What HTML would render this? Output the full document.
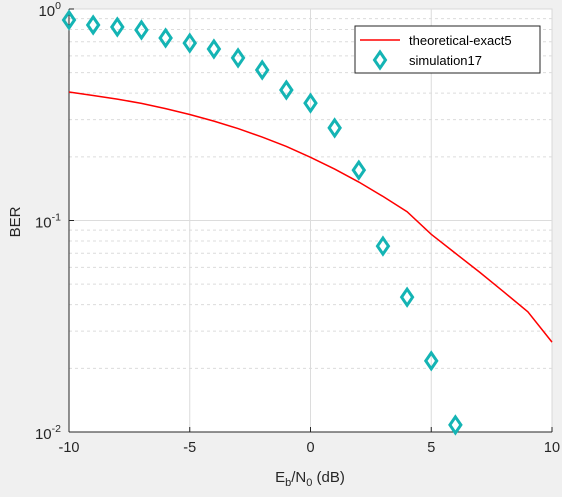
<!DOCTYPE html>
<html><head><meta charset="utf-8"><style>
body{margin:0;background:#f0f0f0;}
svg{display:block;font-family:"Liberation Sans",sans-serif;}
</style></head><body>
<svg id="c" width="562" height="497"></svg>
<script>
const xTicks=[-10,-5,0,5,10];
const simX=[-10,-9,-8,-7,-6,-5,-4,-3,-2,-1,0,1,2,3,4,5,6];
const simY=[0.887,0.840,0.822,0.796,0.729,0.690,0.647,0.587,0.515,0.414,0.359,0.274,0.173,0.0757,0.0434,0.0217,0.0108];
const theoX=[-10,-9,-8,-7,-6,-5,-4,-3,-2,-1,0,1,2,3,4,5,6,7,8,9,10];
const theoY=[0.405,0.39,0.375,0.358,0.338,0.317,0.295,0.272,0.248,0.224,0.199,0.175,0.152,0.13,0.11,0.086,0.07,0.057,0.046,0.037,0.0266];
const L=69,R=552,T=9,B=432;
const sx=v=>L+(v+10)/20*(R-L);
const sy=v=>T+(-Math.log10(v))/2*(B-T);
const svg=document.getElementById('c');const NS='http://www.w3.org/2000/svg';
function mk(t,a,p){const e=document.createElementNS(NS,t);for(const k in a)e.setAttribute(k,a[k]);(p||svg).appendChild(e);return e;}
const bg=mk('rect',{x:L,y:T,width:R-L,height:B-T,fill:'#fff',stroke:'#d8d8d8'});


for(let d=0;d<2;d++)for(let m=2;m<=9;m++){const y=sy(m*Math.pow(10,-d-1));
const g=mk('line',{x1:L,x2:R,y1:y,y2:y,stroke:'#dcdcdc','stroke-dasharray':'3,3'});

}
[0.1].forEach(v=>{const g=mk('line',{x1:L,x2:R,y1:sy(v),y2:sy(v),stroke:'#dcdcdc'});

});
xTicks.forEach(v=>{const x=sx(v);
if(v>-10&&v<10){const g=mk('line',{x1:x,x2:x,y1:T,y2:B,stroke:'#dcdcdc'});

}
mk('line',{x1:x,x2:x,y1:B,y2:B-5,stroke:'#262626'});
const t=mk('text',{x:x,y:B+20,'text-anchor':'middle','font-size':14.5,fill:'#262626'});t.textContent=v;

});
mk('line',{x1:L,x2:R,y1:B,y2:B,stroke:'#262626'});
mk('line',{x1:L,x2:L,y1:T,y2:B,stroke:'#262626'});
[0,-1,-2].forEach(p=>{const y=sy(Math.pow(10,p));
mk('line',{x1:L,x2:L+5,y1:y,y2:y,stroke:'#262626'});
const t=mk('text',{x:L-8,y:y+7,'text-anchor':'end','font-size':15,fill:'#262626'});
t.innerHTML='10<tspan dy="-7" font-size="10.5">'+p+'</tspan>';

});
const yl=mk('text',{x:20,y:222,'text-anchor':'middle','font-size':15,fill:'#262626',transform:'rotate(-90 20 222)'});yl.textContent='BER';


const xl=mk('text',{x:310,y:482,'text-anchor':'middle','font-size':15,fill:'#262626'});
xl.innerHTML='E<tspan dy="4" font-size="11">b</tspan><tspan dy="-4">/N</tspan><tspan dy="4" font-size="11">0</tspan><tspan dy="-4"> (dB)</tspan>';


const ln=mk('polyline',{points:theoX.map((x,i)=>sx(x)+','+sy(theoY[i])).join(' '),fill:'none',stroke:'#ff0000','stroke-width':1.5});


function dia(cx,cy){return `${cx},${cy-8} ${cx+5.5},${cy} ${cx},${cy+8} ${cx-5.5},${cy}`;}
simX.forEach((x,i)=>{const p=mk('polygon',{points:dia(sx(x),sy(simY[i])),fill:'none',stroke:'#14b4b4','stroke-width':3});

});
const lg=mk('g',{});


mk('rect',{x:355,y:26,width:185,height:47,fill:'#fff',stroke:'#262626','stroke-width':1},lg);
mk('line',{x1:360,x2:400,y1:40,y2:40,stroke:'#ff0000','stroke-width':1.5},lg);
const t1=mk('text',{x:409,y:45,'font-size':13,fill:'#000'},lg);t1.textContent='theoretical-exact5';


mk('polygon',{points:dia(380,60),fill:'none',stroke:'#14b4b4','stroke-width':3},lg);
const t2=mk('text',{x:409,y:65,'font-size':13,fill:'#000'},lg);t2.textContent='simulation17';


</script>
</body></html>
